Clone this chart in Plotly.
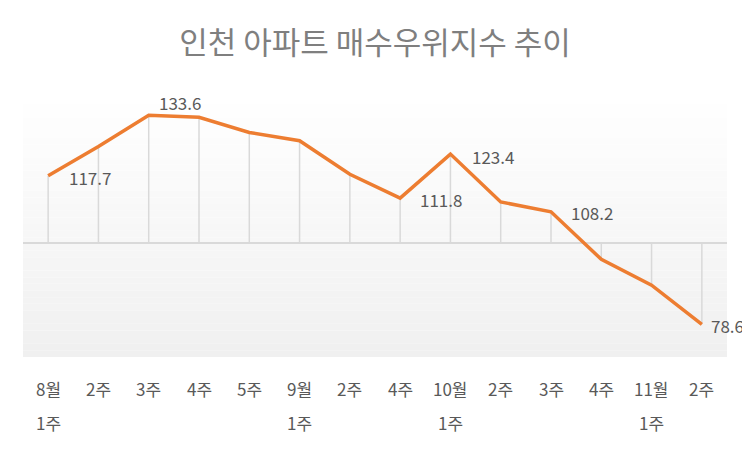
import plotly.graph_objects as go

# 주차 라벨 (두 줄)
label_top = ["8월", "2주", "3주", "4주", "5주", "9월", "2주", "4주",
             "10월", "2주", "3주", "4주", "11월", "2주"]
label_bottom = ["1주", "", "", "", "", "1주", "", "",
                "1주", "", "", "", "1주", ""]

# 매수우위지수
index_values = [117.7, 125.4, 133.6, 133.1, 129.1, 126.9, 118.1, 111.8,
                123.4, 110.8, 108.2, 95.7, 88.9, 78.6]

# 값 표시할 지점
shown_points = [0, 2, 7, 8, 10, 13]

baseline = 100
title_text = "인천 아파트 매수우위지수 추이"

x_idx = list(range(len(index_values)))
font_kr = "Malgun Gothic, Noto Sans CJK KR, sans-serif"
text_gray = "#595959"

# page body has an 8px margin, so the figure is drawn 8px smaller
W, H = 742, 441

fig = go.Figure()

fig.add_trace(go.Scatter(
    x=x_idx, y=index_values,
    mode="lines",
    line=dict(color="#ED7D31", width=3.5),
    hoverinfo="skip",
    showlegend=False,
))

shapes = []

# plot area gradient (white -> light gray)
bands = 40
for i in range(bands):
    t = i / (bands - 1)
    c = int(round(255 - (255 - 240) * t))
    shapes.append(dict(
        type="rect", xref="paper", yref="paper",
        x0=0, x1=1, y0=1 - (i + 1) / bands, y1=1 - i / bands,
        fillcolor="rgb(%d,%d,%d)" % (c, c, c),
        line=dict(width=0), layer="below",
    ))

# drop lines to baseline
for i, v in zip(x_idx, index_values):
    shapes.append(dict(
        type="line", xref="x", yref="y",
        x0=i, x1=i, y0=baseline, y1=v,
        line=dict(color="#D9D9D9", width=1.5), layer="below",
    ))

# baseline
shapes.append(dict(
    type="line", xref="paper", yref="y",
    x0=0, x1=1, y0=baseline, y1=baseline,
    line=dict(color="#D9D9D9", width=2), layer="below",
))

annotations = []

# value labels
label_offsets = {0: (19, -2), 2: (8, 13), 7: (18, -1), 8: (20, -2),
                 10: (18, -1), 13: (7, -1)}
for i in shown_points:
    dx, dy = label_offsets[i]
    annotations.append(dict(
        x=i, y=index_values[i], xref="x", yref="y",
        text="%.1f" % index_values[i], showarrow=False,
        xanchor="left", yanchor="middle", xshift=dx, yshift=dy,
        font=dict(family=font_kr, size=17, color=text_gray),
    ))

# category labels
for i in x_idx:
    annotations.append(dict(
        x=i, y=0, xref="x", yref="paper",
        text=label_top[i], showarrow=False,
        xanchor="center", yanchor="middle", yshift=-31,
        font=dict(family=font_kr, size=17, color=text_gray),
    ))
    if label_bottom[i]:
        annotations.append(dict(
            x=i, y=0, xref="x", yref="paper",
            text=label_bottom[i], showarrow=False,
            xanchor="center", yanchor="middle", yshift=-65,
            font=dict(family=font_kr, size=17, color=text_gray),
        ))

fig.update_layout(
    width=W, height=H,
    margin=dict(l=15, r=23, t=83, b=92),
    paper_bgcolor="white",
    plot_bgcolor="white",
    title=dict(text=title_text, x=(375 - 8) / W, xanchor="center",
               y=1 - 35 / H, yanchor="middle",
               font=dict(family=font_kr, size=31, color="#7F7F7F")),
    xaxis=dict(range=[-0.5, len(index_values) - 0.5], showgrid=False,
               zeroline=False, showticklabels=False, ticks="", fixedrange=True),
    yaxis=dict(range=[70, 140], showgrid=False, zeroline=False,
               showticklabels=False, ticks="", fixedrange=True),
    shapes=shapes,
    annotations=annotations,
    showlegend=False,
)

fig.write_html("out.html")
